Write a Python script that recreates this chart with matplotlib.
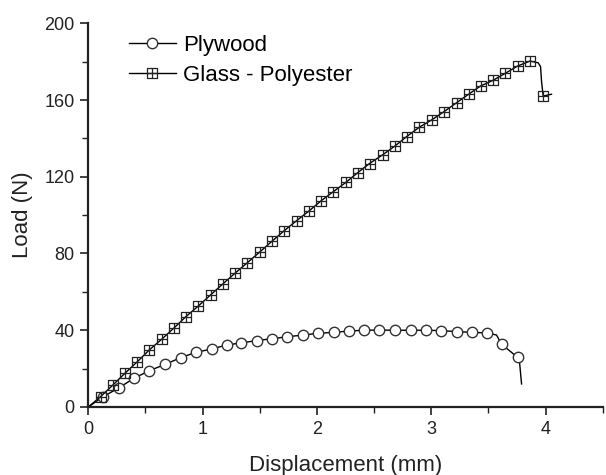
import matplotlib.pyplot as plt
from matplotlib.path import Path
from matplotlib.ticker import MultipleLocator

# load-displacement curves of the two specimens
ply_disp = [0, 0.131, 0.271, 0.400, 0.534, 0.671, 0.808, 0.942, 1.079, 1.210,
            1.338, 1.472, 1.609, 1.740, 1.880, 2.011, 2.149, 2.283, 2.414, 2.545,
            2.682, 2.819, 2.953, 3.084, 3.222, 3.355, 3.489, 3.571, 3.615, 3.755,
            3.773, 3.790]
ply_load = [0, 5.4, 10.1, 15.0, 18.9, 22.2, 25.7, 28.5, 30.2, 32.3,
            33.4, 34.6, 35.6, 36.6, 37.5, 38.4, 38.9, 39.6, 40.0, 40.1,
            40.0, 40.0, 40.0, 39.8, 39.3, 38.9, 38.6, 37.5, 32.7, 25.9,
            23.0, 12.0]
ply_marked = list(range(1, 27)) + [28, 29]

gp_disp = [0, 0.108, 0.216, 0.321, 0.429, 0.533, 0.642, 0.752, 0.854, 0.962,
           1.070, 1.176, 1.283, 1.391, 1.502, 1.609, 1.714, 1.822, 1.933, 2.035,
           2.143, 2.254, 2.356, 2.460, 2.574, 2.682, 2.784, 2.895, 3.003, 3.111,
           3.222, 3.329, 3.431, 3.542, 3.647, 3.755, 3.863, 3.935, 3.956, 3.965,
           3.979, 4.052]
gp_load = [0, 5.4, 11.5, 17.6, 23.6, 29.7, 35.3, 41.3, 47.1, 52.6,
           58.4, 64.1, 69.7, 75.2, 80.9, 86.5, 91.9, 97.1, 102.3, 107.4,
           112.2, 117.1, 122.1, 126.9, 131.4, 136.0, 140.9, 145.8, 149.6, 153.9,
           158.6, 163.1, 167.3, 170.3, 173.9, 177.7, 180.3, 179.4, 177.4, 169.6,
           162.1, 163.0]
gp_marked = list(range(1, 37)) + [40]

plt.rcParams['font.family'] = ['Liberation Sans', 'DejaVu Sans']

# square with a cross inside
M, L, C = Path.MOVETO, Path.LINETO, Path.CLOSEPOLY
boxed_plus = Path(
    [(-1, -1), (1, -1), (1, 1), (-1, 1), (-1, -1),
     (0, -1), (0, 1), (-1, 0), (1, 0)],
    [M, L, L, L, C, M, L, M, L])

fig = plt.figure(figsize=(6.06, 4.75), dpi=100)
ax = fig.add_axes([0.1457, 0.1432, 0.8489, 0.8078])

ax.plot(ply_disp, ply_load, '-', color='black', lw=1.0,
        marker='o', markevery=ply_marked, markersize=7.5,
        markerfacecolor='white', markeredgecolor='#333333', markeredgewidth=1.0,
        label='Plywood')
ax.plot(gp_disp, gp_load, '-', color='black', lw=1.0,
        marker=boxed_plus, markevery=gp_marked, markersize=6.5,
        markerfacecolor='none', markeredgecolor='#222222', markeredgewidth=0.9,
        label='Glass - Polyester')

ax.set_xlim(0, 4.5)
ax.set_ylim(0, 200)
ax.xaxis.set_major_locator(MultipleLocator(1))
ax.xaxis.set_minor_locator(MultipleLocator(0.5))
ax.yaxis.set_major_locator(MultipleLocator(40))
ax.yaxis.set_minor_locator(MultipleLocator(20))

for side in ('top', 'right'):
    ax.spines[side].set_visible(False)
for side in ('left', 'bottom'):
    ax.spines[side].set_linewidth(1.6)
    ax.spines[side].set_color('#222222')

ax.tick_params(which='major', direction='out', length=6, width=1.2,
               labelsize=13, pad=4, colors='#222222')
ax.tick_params(which='minor', direction='out', length=4, width=1.0,
               colors='#222222')

ax.set_xlabel('Displacement (mm)', fontsize=16, labelpad=12, color='#222222')
ax.set_ylabel('Load (N)', fontsize=16, labelpad=8, color='#222222')

ax.legend(loc='upper left', bbox_to_anchor=(0.079, 0.969), frameon=False,
          fontsize=16, handlelength=2.1, handletextpad=0.35, labelspacing=0.38,
          borderpad=0, borderaxespad=0)

fig.savefig('out.png', dpi=100)
